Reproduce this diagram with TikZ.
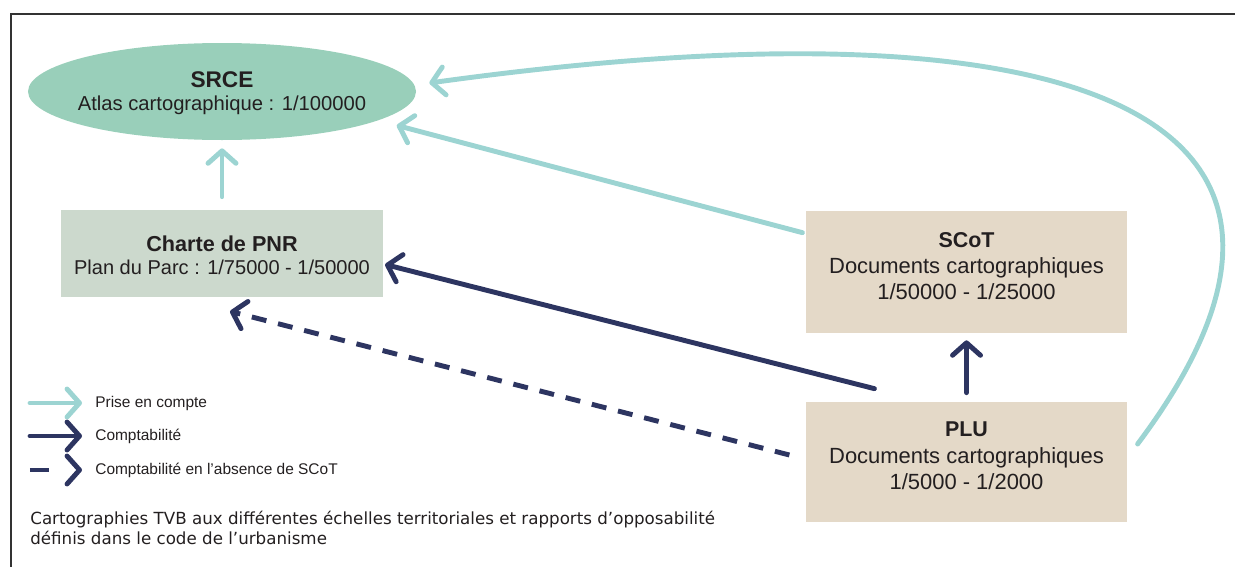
\documentclass[tikz,border=0pt]{standalone}
\usepackage{xcolor}
\usepackage{fontspec}
\setmainfont{Liberation Sans}
\newfontfamily\captionfont{DejaVu Sans}
\usepackage{tikz}
\usetikzlibrary{shapes, arrows.meta}
\usetikzlibrary{positioning}
\definecolor{srcegreen}{HTML}{99CFBA}
\definecolor{pnrgreen}{HTML}{CCD9CD}
\definecolor{docbeige}{HTML}{E4D9C8}
\definecolor{tealarrow}{HTML}{9CD4D2}
\definecolor{navy}{HTML}{2D3561}
\definecolor{txtgray}{HTML}{231F20}
\definecolor{framegray}{HTML}{333333}

\begin{document}
\begin{tikzpicture}[node distance=3.24cm,
  box/.style={rectangle, minimum width=6.43cm, inner sep=0pt},
  boxtext/.style={align=center, inner sep=0pt, text=txtgray, font=\fontsize{12.5}{15}\selectfont},
  prise/.style={draw=tealarrow, line width=2.8pt, line cap=round, -{Straight Barb[length=0.25cm, width=0.56cm, round]}},
  compat/.style={prise, draw=navy},
  absence/.style={compat, line cap=butt, dash pattern=on 0.3cm off 0.24cm},
  legend/.style={anchor=west, inner xsep=0pt, text=txtgray, font=\fontsize{8.8}{10}\selectfont}]
\useasboundingbox (0,0) rectangle (24.7,-11.34);
\draw[framegray, line width=0.8pt] (24.7,-0.28) -- (0.22,-0.28) -- (0.22,-11.34);

\node[ellipse, fill=srcegreen, minimum width=7.76cm, minimum height=1.94cm, inner sep=0pt] (SRCE) at (4.44,-1.83) {};
\node[boxtext, font=\fontsize{11.5}{13}\selectfont] (SRCEtxt) at ([yshift=-0.04cm]SRCE) {{\fontsize{12.9}{13}\selectfont\bfseries SRCE}\\Atlas cartographique : 1/100000};
\node[box, fill=pnrgreen, minimum height=1.74cm] (PNR) [below of=SRCE] {};
\node[boxtext, font=\fontsize{11.4}{13}\selectfont] (PNRtxt) at ([yshift=-0.03cm]PNR) {{\fontsize{12.3}{13}\selectfont\bfseries Charte de PNR}\\Plan du Parc : 1/75000 - 1/50000};
\node[box, fill=docbeige, minimum height=2.44cm] (SCoT) at (19.33,-5.44) {};
\node[boxtext] (SCoTtxt) at ([yshift=0.12cm]SCoT) {{\fontsize{12.2}{15}\selectfont\bfseries SCoT}\\Documents cartographiques\\1/50000 - 1/25000};
\node[box, fill=docbeige, minimum height=2.4cm, node distance=3.8cm] (PLU) [below of=SCoT] {};
\node[boxtext] (PLUtxt) at ([yshift=0.12cm]PLU) {{\fontsize{12.2}{15}\selectfont\bfseries PLU}\\Documents cartographiques\\1/5000 - 1/2000};

\draw[prise, shorten <=0.26cm, shorten >=0.16cm] (PNR) -- (SRCE);
\draw[prise] ([shift={(-0.06,-0.44)}]SCoT.north west) -- ([shift={(0.42,-0.08)}]SRCE.-11);
\draw[prise] ([shift={(0.2,0.36)}]PLU.east) .. controls +(4.8,6.4) and +(13.42,1.86) .. ([shift={(0.26,0.17)}]SRCE.east);
\draw[compat] ([shift={(1.38,0.26)}]PLU.north west) -- ([shift={(0.04,-0.22)}]PNR.east);
\draw[absence] ([shift={(-0.32,0.14)}]PLU.west) -- ([shift={(0.16,-0.28)}]PNR.south);
\draw[compat, shorten <=0.18cm, shorten >=0.14cm] (PLU) -- (SCoT);

% legende
\node[legend] (lgPrise) at (1.9,-8.06) {Prise en compte};
\node[legend] (lgComp) at (1.9,-8.72) {Comptabilité};
\node[legend] (lgAbs) at (1.9,-9.4) {Comptabilité en l’absence de SCoT};
\draw[prise] ([xshift=-1.3cm]lgPrise.west) -- ([xshift=-0.26cm]lgPrise.west);
\draw[compat] ([xshift=-1.3cm]lgComp.west) -- ([xshift=-0.26cm]lgComp.west);
\draw[compat, line cap=butt, dash pattern=on 0.38cm off 0.6cm] ([xshift=-1.3cm]lgAbs.west) -- ([xshift=-0.26cm]lgAbs.west);

\node[anchor=north west, align=left, inner sep=0pt, text=txtgray, font=\captionfont\fontsize{9.5}{11.4}\selectfont] (caption) at (0.6,-10.22) {Cartographies TVB aux différentes échelles territoriales et rapports d’opposabilité\\définis dans le code de l’urbanisme};
\end{tikzpicture}
\end{document}
